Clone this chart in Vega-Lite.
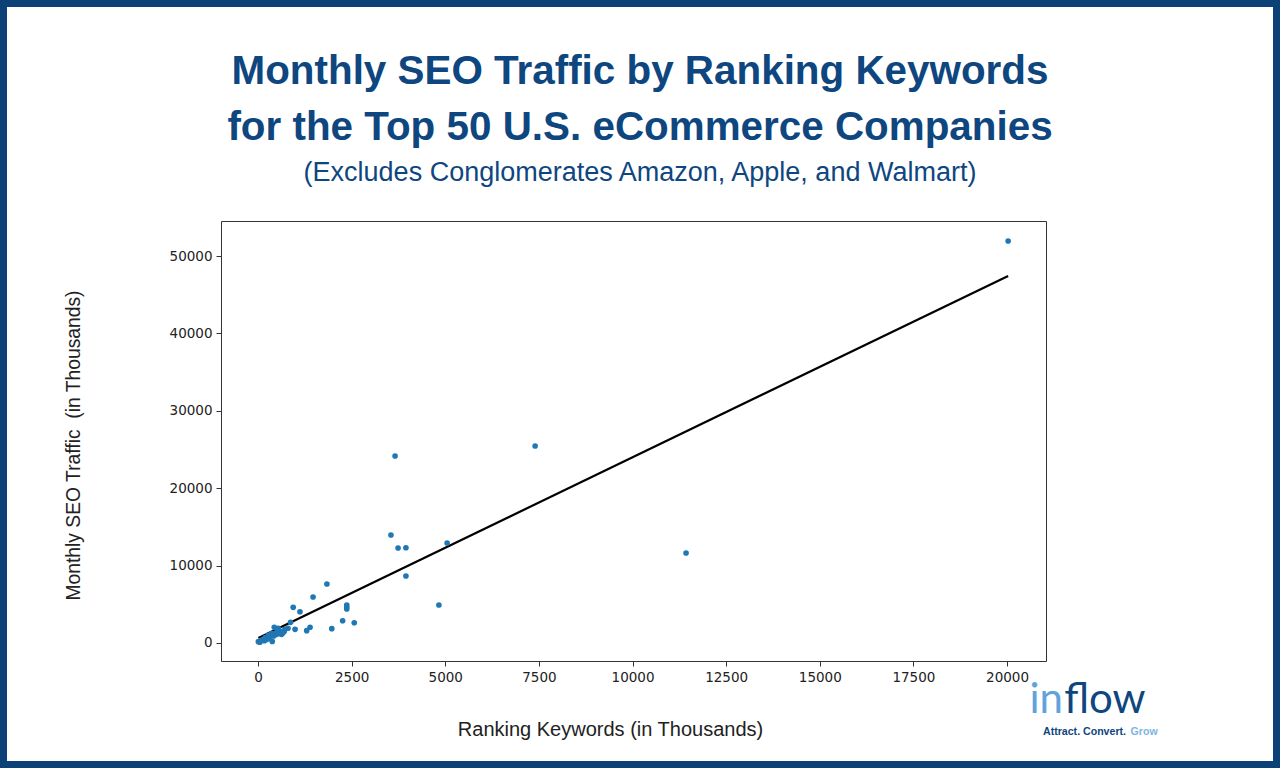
{
  "$schema": "https://vega.github.io/schema/vega-lite/v6.json",
  "width": 1280,
  "height": 768,
  "autosize": "none",
  "padding": 0,
  "background": "#0c4178",
  "config": {
    "view": {"fill": "white", "stroke": "#0c4178", "strokeWidth": 14},
    "font": "Liberation Sans",
    "axis": {
      "grid": false,
      "tickSize": 5,
      "tickColor": "#333333",
      "domainColor": "#333333",
      "domainWidth": 1,
      "labelColor": "#222222",
      "labelFont": "DejaVu Sans",
      "labelFontSize": 13.5,
      "labelPadding": 4,
      "titleFont": "Liberation Sans",
      "titleFontSize": 19,
      "titleFontWeight": "normal",
      "titleColor": "#222222"
    }
  },
  "title": {
    "text": ["Monthly SEO Traffic by Ranking Keywords", "for the Top 50 U.S. eCommerce Companies"],
    "subtitle": "(Excludes Conglomerates Amazon, Apple, and Walmart)",
    "anchor": "middle",
    "frame": "group",
    "font": "Liberation Sans",
    "fontSize": 40.4,
    "fontWeight": "bold",
    "color": "#0e4680",
    "lineHeight": 55.5,
    "subtitleFont": "Liberation Sans",
    "subtitleFontSize": 27,
    "subtitleColor": "#0e4680",
    "subtitlePadding": 12,
    "offset": 0,
    "dy": 186
  },
  "datasets": {
    "companies": [
      {"keywords": 20030, "traffic": 51940},
      {"keywords": 7400, "traffic": 25450},
      {"keywords": 3660, "traffic": 24160},
      {"keywords": 11430, "traffic": 11630},
      {"keywords": 3550, "traffic": 13950},
      {"keywords": 3740, "traffic": 12270},
      {"keywords": 3950, "traffic": 12300},
      {"keywords": 5050, "traffic": 12920},
      {"keywords": 3950, "traffic": 8660},
      {"keywords": 4830, "traffic": 4910},
      {"keywords": 1840, "traffic": 7620},
      {"keywords": 1470, "traffic": 5940},
      {"keywords": 2370, "traffic": 4910},
      {"keywords": 2370, "traffic": 4650},
      {"keywords": 2370, "traffic": 4390},
      {"keywords": 2260, "traffic": 2880},
      {"keywords": 2570, "traffic": 2620},
      {"keywords": 1970, "traffic": 1850},
      {"keywords": 1300, "traffic": 1590},
      {"keywords": 1390, "traffic": 2030},
      {"keywords": 1120, "traffic": 4040},
      {"keywords": 940, "traffic": 4610},
      {"keywords": 870, "traffic": 2670},
      {"keywords": 990, "traffic": 1770},
      {"keywords": 435, "traffic": 2030},
      {"keywords": 540, "traffic": 1900},
      {"keywords": 610, "traffic": 1460},
      {"keywords": 720, "traffic": 1770},
      {"keywords": 500, "traffic": 1330},
      {"keywords": 370, "traffic": 1250},
      {"keywords": 275, "traffic": 1030},
      {"keywords": 190, "traffic": 690},
      {"keywords": 100, "traffic": 390},
      {"keywords": 10, "traffic": 170},
      {"keywords": 170, "traffic": 300},
      {"keywords": 380, "traffic": 200},
      {"keywords": 630, "traffic": 1120},
      {"keywords": 420, "traffic": 900},
      {"keywords": 300, "traffic": 600},
      {"keywords": 520, "traffic": 1600},
      {"keywords": 660, "traffic": 1300},
      {"keywords": 480, "traffic": 1100},
      {"keywords": 230, "traffic": 450},
      {"keywords": 50, "traffic": 100},
      {"keywords": 560, "traffic": 1200},
      {"keywords": 700, "traffic": 1500},
      {"keywords": 800, "traffic": 1900}
    ],
    "fit": [
      {"keywords": 10, "traffic": 650},
      {"keywords": 20030, "traffic": 47420}
    ]
  },
  "layer": [
    {
      "data": {"name": "fit"},
      "mark": {"type": "line", "color": "black", "strokeWidth": 2.2},
      "encoding": {
        "x": {
          "field": "keywords",
          "type": "quantitative",
          "scale": {"domain": [-988, 21041], "range": [221, 1046], "nice": false, "zero": false},
          "axis": {"orient": "top", "offset": -221, "labels": false, "ticks": false, "title": null}
        },
        "y": {
          "field": "traffic",
          "type": "quantitative",
          "scale": {"domain": [-2326, 54522], "range": [661, 221], "nice": false, "zero": false},
          "axis": {"orient": "right", "offset": -234, "labels": false, "ticks": false, "title": null}
        }
      }
    },
    {
      "data": {"name": "companies"},
      "mark": {"type": "circle", "size": 32, "color": "#1f77b4", "opacity": 1},
      "encoding": {
        "x": {
          "field": "keywords",
          "type": "quantitative",
          "axis": {
            "orient": "bottom",
            "offset": -107,
            "values": [0, 2500, 5000, 7500, 10000, 12500, 15000, 17500, 20000],
            "format": "d",
            "title": "Ranking Keywords (in Thousands)",
            "titleFontSize": 20,
            "titleX": 610,
            "titleY": 74,
            "titleAlign": "center",
            "titleBaseline": "alphabetic"
          }
        },
        "y": {
          "field": "traffic",
          "type": "quantitative",
          "axis": {
            "orient": "left",
            "offset": -221,
            "values": [0, 10000, 20000, 30000, 40000, 50000],
            "format": "d",
            "title": "Monthly SEO Traffic\u00a0 (in Thousands)",
            "titleFontSize": 19.3,
            "titleX": -148,
            "titleY": 445,
            "titleAngle": 270,
            "titleAlign": "center",
            "titleBaseline": "middle"
          }
        }
      }
    },
    {
      "data": {"values": [{"label": "in"}]},
      "mark": {"type": "text", "align": "right", "baseline": "alphabetic", "font": "Lato", "fontWeight": "normal", "fontSize": 42, "color": "#5fa3dc"},
      "encoding": {
        "x": {"datum": 21495, "type": "quantitative", "axis": null},
        "y": {"datum": -9100, "type": "quantitative", "axis": null},
        "text": {"field": "label"}
      }
    },
    {
      "data": {"values": [{"label": "flow"}]},
      "mark": {"type": "text", "align": "left", "baseline": "alphabetic", "font": "Lato", "fontWeight": "normal", "fontSize": 42, "color": "#0e4680"},
      "encoding": {
        "x": {"datum": 21530, "type": "quantitative", "axis": null},
        "y": {"datum": -9100, "type": "quantitative", "axis": null},
        "text": {"field": "label"}
      }
    },
    {
      "data": {"values": [{"label": "Attract. Convert."}]},
      "mark": {"type": "text", "align": "left", "baseline": "alphabetic", "font": "Liberation Sans", "fontWeight": "bold", "fontSize": 10.6, "color": "#0e4680"},
      "encoding": {
        "x": {"datum": 20961, "type": "quantitative", "axis": null},
        "y": {"datum": -11886, "type": "quantitative", "axis": null},
        "text": {"field": "label"}
      }
    },
    {
      "data": {"values": [{"label": "Grow"}]},
      "mark": {"type": "text", "align": "left", "baseline": "alphabetic", "font": "Liberation Sans", "fontWeight": "bold", "fontSize": 10.6, "color": "#7fb4e3"},
      "encoding": {
        "x": {"datum": 23300, "type": "quantitative", "axis": null},
        "y": {"datum": -11886, "type": "quantitative", "axis": null},
        "text": {"field": "label"}
      }
    }
  ],
  "resolve": {"axis": {"x": "independent", "y": "independent"}}
}
